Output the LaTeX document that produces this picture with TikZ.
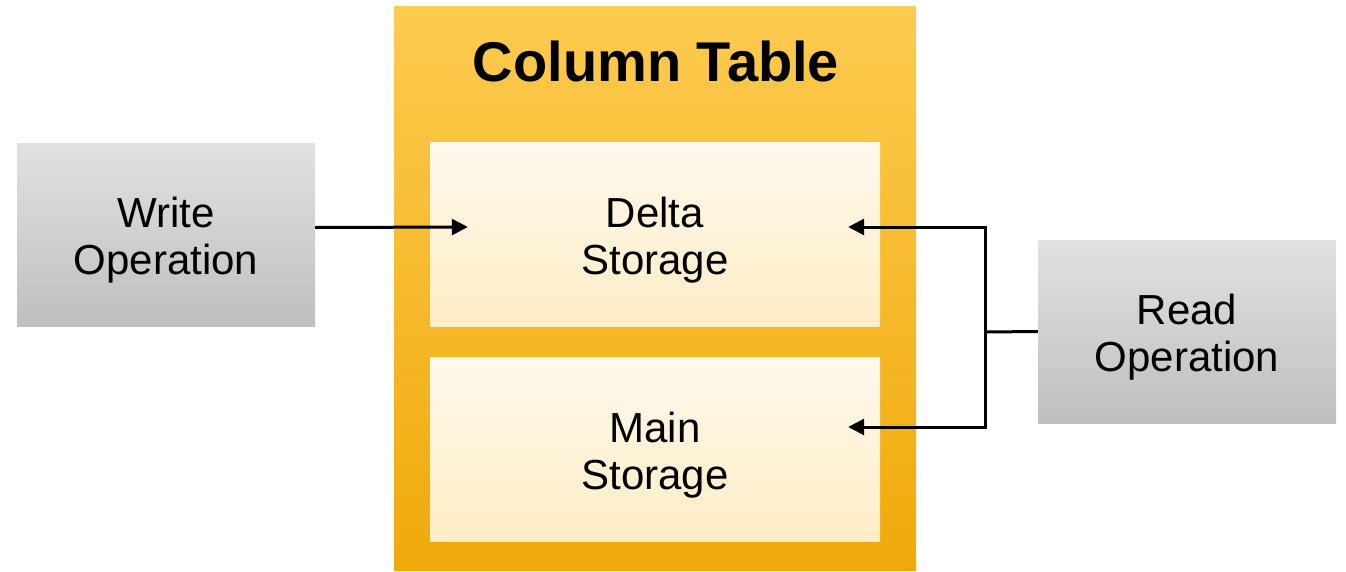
\documentclass[tikz,border=0pt]{standalone}
\usepackage{fontspec}
\setmainfont{Liberation Sans}
\usetikzlibrary{arrows.meta}
\definecolor{outTop}{RGB}{253,203,80}
\definecolor{outBot}{RGB}{240,169,10}
\definecolor{inTop}{RGB}{254,249,237}
\definecolor{inBot}{RGB}{254,237,198}
\definecolor{grTop}{RGB}{225,225,225}
\definecolor{grBot}{RGB}{191,191,191}
\newcommand{\lowerstrut}{\rule{0pt}{42pt}}
\tikzset{
  opbox/.style={rectangle, minimum width=298pt, minimum height=183pt, top color=grTop, bottom color=grBot, draw=none, align=center, font=\fontsize{42}{47}\selectfont, inner sep=0pt},
  storebox/.style={rectangle, minimum width=450pt, minimum height=184pt, top color=inTop, bottom color=inBot, draw=none, align=center, font=\fontsize{42}{47}\selectfont, inner sep=0pt},
  tablebox/.style={rectangle, minimum width=522pt, minimum height=564pt, top color=outTop, bottom color=outBot, draw=none, inner sep=0pt},
  conn/.style={line width=3pt, draw=black},
  arr/.style={conn, -{Triangle[length=16pt,width=16pt]}}
}
\begin{document}
\begin{tikzpicture}[x=1pt,y=-1pt]
\useasboundingbox (0,0) rectangle (1346,571);
\node[tablebox] (table) at (655,288) {};
\node[font=\fontsize{56}{60}\selectfont\bfseries] (title) at (656,61) {Column Table};
\node[storebox] (delta) at (655,234) {\lowerstrut Delta\\Storage};
\node[storebox] (main) at (655,449) {\lowerstrut Main\\Storage};
\node[opbox] (write) at (166,234.5) {\lowerstrut Write\\Operation};
\node[opbox] (read) at (1187,331.5) {\lowerstrut Read\\Operation};
\coordinate (j) at (985,332);
\draw[arr] ([yshift=7pt]write.east) -- ([xshift=38pt,yshift=7pt]delta.west);
\draw[conn] (read.west) -- (j);
\draw[arr] (j) |- ([xshift=-32pt,yshift=7pt]delta.east);
\draw[arr] (j) |- ([xshift=-32pt,yshift=22pt]main.east);
\end{tikzpicture}
\end{document}
